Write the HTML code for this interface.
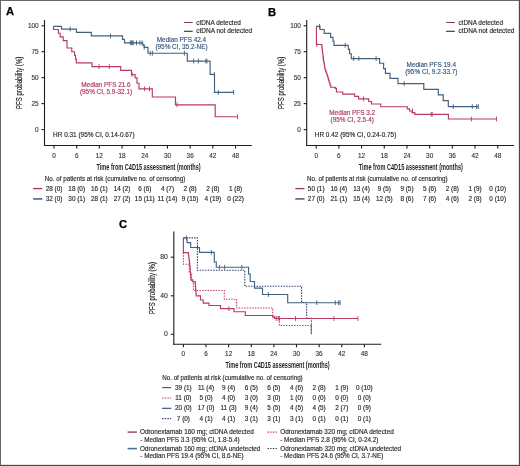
<!DOCTYPE html>
<html><head><meta charset="utf-8"><style>
html,body{margin:0;padding:0;background:#fff;}
body{width:520px;height:466px;overflow:hidden;font-family:"Liberation Sans",sans-serif;}
svg{display:block;will-change:transform;}
</style></head><body>
<svg width="520" height="466" viewBox="0 0 520 466" font-family="Liberation Sans">
<rect x="0" y="0" width="520" height="466" fill="#ffffff"/>
<text x="6.00" y="15.25" font-size="11.2" fill="#000" font-weight="bold" stroke="#000" stroke-width="0.25">A</text>
<text x="267.90" y="15.50" font-size="11.2" fill="#000" font-weight="bold" stroke="#000" stroke-width="0.25">B</text>
<text x="119.00" y="228.00" font-size="11.2" fill="#000" font-weight="bold" stroke="#000" stroke-width="0.25">C</text>
<line x1="44.50" y1="20.00" x2="44.50" y2="146.00" stroke="#1c1c1c" stroke-width="1.1"/>
<line x1="44.00" y1="145.50" x2="251.80" y2="145.50" stroke="#1c1c1c" stroke-width="1.1"/>
<line x1="41.50" y1="25.80" x2="44.50" y2="25.80" stroke="#1c1c1c" stroke-width="1.1"/>
<text x="38.60" y="28.10" font-size="6.4" fill="#3a3a3a" text-anchor="end" stroke="#3a3a3a" stroke-width="0.15">100</text>
<line x1="41.50" y1="51.70" x2="44.50" y2="51.70" stroke="#1c1c1c" stroke-width="1.1"/>
<text x="38.60" y="54.00" font-size="6.4" fill="#3a3a3a" text-anchor="end" stroke="#3a3a3a" stroke-width="0.15">75</text>
<line x1="41.50" y1="77.70" x2="44.50" y2="77.70" stroke="#1c1c1c" stroke-width="1.1"/>
<text x="38.60" y="80.00" font-size="6.4" fill="#3a3a3a" text-anchor="end" stroke="#3a3a3a" stroke-width="0.15">50</text>
<line x1="41.50" y1="103.60" x2="44.50" y2="103.60" stroke="#1c1c1c" stroke-width="1.1"/>
<text x="38.60" y="105.90" font-size="6.4" fill="#3a3a3a" text-anchor="end" stroke="#3a3a3a" stroke-width="0.15">25</text>
<line x1="41.50" y1="129.60" x2="44.50" y2="129.60" stroke="#1c1c1c" stroke-width="1.1"/>
<text x="38.60" y="131.90" font-size="6.4" fill="#3a3a3a" text-anchor="end" stroke="#3a3a3a" stroke-width="0.15">0</text>
<line x1="54.00" y1="145.50" x2="54.00" y2="148.50" stroke="#1c1c1c" stroke-width="1.1"/>
<text x="54.00" y="157.70" font-size="6.4" fill="#3a3a3a" text-anchor="middle" stroke="#3a3a3a" stroke-width="0.15">0</text>
<line x1="76.69" y1="145.50" x2="76.69" y2="148.50" stroke="#1c1c1c" stroke-width="1.1"/>
<text x="76.69" y="157.70" font-size="6.4" fill="#3a3a3a" text-anchor="middle" stroke="#3a3a3a" stroke-width="0.15">6</text>
<line x1="99.38" y1="145.50" x2="99.38" y2="148.50" stroke="#1c1c1c" stroke-width="1.1"/>
<text x="99.38" y="157.70" font-size="6.4" fill="#3a3a3a" text-anchor="middle" stroke="#3a3a3a" stroke-width="0.15">12</text>
<line x1="122.07" y1="145.50" x2="122.07" y2="148.50" stroke="#1c1c1c" stroke-width="1.1"/>
<text x="122.07" y="157.70" font-size="6.4" fill="#3a3a3a" text-anchor="middle" stroke="#3a3a3a" stroke-width="0.15">18</text>
<line x1="144.76" y1="145.50" x2="144.76" y2="148.50" stroke="#1c1c1c" stroke-width="1.1"/>
<text x="144.76" y="157.70" font-size="6.4" fill="#3a3a3a" text-anchor="middle" stroke="#3a3a3a" stroke-width="0.15">24</text>
<line x1="167.45" y1="145.50" x2="167.45" y2="148.50" stroke="#1c1c1c" stroke-width="1.1"/>
<text x="167.45" y="157.70" font-size="6.4" fill="#3a3a3a" text-anchor="middle" stroke="#3a3a3a" stroke-width="0.15">30</text>
<line x1="190.14" y1="145.50" x2="190.14" y2="148.50" stroke="#1c1c1c" stroke-width="1.1"/>
<text x="190.14" y="157.70" font-size="6.4" fill="#3a3a3a" text-anchor="middle" stroke="#3a3a3a" stroke-width="0.15">36</text>
<line x1="212.83" y1="145.50" x2="212.83" y2="148.50" stroke="#1c1c1c" stroke-width="1.1"/>
<text x="212.83" y="157.70" font-size="6.4" fill="#3a3a3a" text-anchor="middle" stroke="#3a3a3a" stroke-width="0.15">42</text>
<line x1="235.52" y1="145.50" x2="235.52" y2="148.50" stroke="#1c1c1c" stroke-width="1.1"/>
<text x="235.52" y="157.70" font-size="6.4" fill="#3a3a3a" text-anchor="middle" stroke="#3a3a3a" stroke-width="0.15">48</text>
<text transform="translate(22.20,109) rotate(-90)" font-size="9" fill="#111" stroke="#111" stroke-width="0.12" textLength="52.3" lengthAdjust="spacingAndGlyphs">PFS probability (%)</text>
<text x="96.50" y="169.60" font-size="9.3" fill="#1e1e1e" font-weight="bold" textLength="104.2" lengthAdjust="spacingAndGlyphs">Time from C4D15 assessment (months)</text>
<line x1="183.90" y1="22.50" x2="192.70" y2="22.50" stroke="#8e3552" stroke-width="1.05"/>
<line x1="183.90" y1="31.30" x2="192.70" y2="31.30" stroke="#22404e" stroke-width="1.15"/>
<text x="196.20" y="24.50" font-size="6.4" fill="#2a2a2a" textLength="44.6" lengthAdjust="spacingAndGlyphs" stroke="#2a2a2a" stroke-width="0.15">ctDNA detected</text>
<text x="196.20" y="33.10" font-size="6.4" fill="#2a2a2a" textLength="56.0" lengthAdjust="spacingAndGlyphs" stroke="#2a2a2a" stroke-width="0.15">ctDNA not detected</text>
<text x="44.80" y="180.80" font-size="6.4" fill="#2a2a2a" textLength="140.6" lengthAdjust="spacingAndGlyphs" stroke="#2a2a2a" stroke-width="0.15">No. of patients at risk (cumulative no. of censoring)</text>
<line x1="33.10" y1="188.60" x2="42.30" y2="188.60" stroke="#9a3a5a" stroke-width="1.3"/>
<line x1="33.10" y1="198.90" x2="42.30" y2="198.90" stroke="#5d7790" stroke-width="1.8"/>
<line x1="306.70" y1="20.00" x2="306.70" y2="146.00" stroke="#1c1c1c" stroke-width="1.1"/>
<line x1="306.20" y1="145.50" x2="514.00" y2="145.50" stroke="#1c1c1c" stroke-width="1.1"/>
<line x1="303.70" y1="25.80" x2="306.70" y2="25.80" stroke="#1c1c1c" stroke-width="1.1"/>
<text x="300.80" y="28.10" font-size="6.4" fill="#3a3a3a" text-anchor="end" stroke="#3a3a3a" stroke-width="0.15">100</text>
<line x1="303.70" y1="51.70" x2="306.70" y2="51.70" stroke="#1c1c1c" stroke-width="1.1"/>
<text x="300.80" y="54.00" font-size="6.4" fill="#3a3a3a" text-anchor="end" stroke="#3a3a3a" stroke-width="0.15">75</text>
<line x1="303.70" y1="77.70" x2="306.70" y2="77.70" stroke="#1c1c1c" stroke-width="1.1"/>
<text x="300.80" y="80.00" font-size="6.4" fill="#3a3a3a" text-anchor="end" stroke="#3a3a3a" stroke-width="0.15">50</text>
<line x1="303.70" y1="103.60" x2="306.70" y2="103.60" stroke="#1c1c1c" stroke-width="1.1"/>
<text x="300.80" y="105.90" font-size="6.4" fill="#3a3a3a" text-anchor="end" stroke="#3a3a3a" stroke-width="0.15">25</text>
<line x1="303.70" y1="129.60" x2="306.70" y2="129.60" stroke="#1c1c1c" stroke-width="1.1"/>
<text x="300.80" y="131.90" font-size="6.4" fill="#3a3a3a" text-anchor="end" stroke="#3a3a3a" stroke-width="0.15">0</text>
<line x1="316.20" y1="145.50" x2="316.20" y2="148.50" stroke="#1c1c1c" stroke-width="1.1"/>
<text x="316.20" y="157.70" font-size="6.4" fill="#3a3a3a" text-anchor="middle" stroke="#3a3a3a" stroke-width="0.15">0</text>
<line x1="338.89" y1="145.50" x2="338.89" y2="148.50" stroke="#1c1c1c" stroke-width="1.1"/>
<text x="338.89" y="157.70" font-size="6.4" fill="#3a3a3a" text-anchor="middle" stroke="#3a3a3a" stroke-width="0.15">6</text>
<line x1="361.58" y1="145.50" x2="361.58" y2="148.50" stroke="#1c1c1c" stroke-width="1.1"/>
<text x="361.58" y="157.70" font-size="6.4" fill="#3a3a3a" text-anchor="middle" stroke="#3a3a3a" stroke-width="0.15">12</text>
<line x1="384.27" y1="145.50" x2="384.27" y2="148.50" stroke="#1c1c1c" stroke-width="1.1"/>
<text x="384.27" y="157.70" font-size="6.4" fill="#3a3a3a" text-anchor="middle" stroke="#3a3a3a" stroke-width="0.15">18</text>
<line x1="406.96" y1="145.50" x2="406.96" y2="148.50" stroke="#1c1c1c" stroke-width="1.1"/>
<text x="406.96" y="157.70" font-size="6.4" fill="#3a3a3a" text-anchor="middle" stroke="#3a3a3a" stroke-width="0.15">24</text>
<line x1="429.65" y1="145.50" x2="429.65" y2="148.50" stroke="#1c1c1c" stroke-width="1.1"/>
<text x="429.65" y="157.70" font-size="6.4" fill="#3a3a3a" text-anchor="middle" stroke="#3a3a3a" stroke-width="0.15">30</text>
<line x1="452.34" y1="145.50" x2="452.34" y2="148.50" stroke="#1c1c1c" stroke-width="1.1"/>
<text x="452.34" y="157.70" font-size="6.4" fill="#3a3a3a" text-anchor="middle" stroke="#3a3a3a" stroke-width="0.15">36</text>
<line x1="475.03" y1="145.50" x2="475.03" y2="148.50" stroke="#1c1c1c" stroke-width="1.1"/>
<text x="475.03" y="157.70" font-size="6.4" fill="#3a3a3a" text-anchor="middle" stroke="#3a3a3a" stroke-width="0.15">42</text>
<line x1="497.72" y1="145.50" x2="497.72" y2="148.50" stroke="#1c1c1c" stroke-width="1.1"/>
<text x="497.72" y="157.70" font-size="6.4" fill="#3a3a3a" text-anchor="middle" stroke="#3a3a3a" stroke-width="0.15">48</text>
<text transform="translate(284.40,109) rotate(-90)" font-size="9" fill="#111" stroke="#111" stroke-width="0.12" textLength="52.3" lengthAdjust="spacingAndGlyphs">PFS probability (%)</text>
<text x="358.70" y="169.60" font-size="9.3" fill="#1e1e1e" font-weight="bold" textLength="104.2" lengthAdjust="spacingAndGlyphs">Time from C4D15 assessment (months)</text>
<line x1="446.10" y1="22.50" x2="454.90" y2="22.50" stroke="#8e3552" stroke-width="1.05"/>
<line x1="446.10" y1="31.30" x2="454.90" y2="31.30" stroke="#22404e" stroke-width="1.15"/>
<text x="458.40" y="24.50" font-size="6.4" fill="#2a2a2a" textLength="44.6" lengthAdjust="spacingAndGlyphs" stroke="#2a2a2a" stroke-width="0.15">ctDNA detected</text>
<text x="458.40" y="33.10" font-size="6.4" fill="#2a2a2a" textLength="56.0" lengthAdjust="spacingAndGlyphs" stroke="#2a2a2a" stroke-width="0.15">ctDNA not detected</text>
<text x="307.00" y="180.80" font-size="6.4" fill="#2a2a2a" textLength="140.6" lengthAdjust="spacingAndGlyphs" stroke="#2a2a2a" stroke-width="0.15">No. of patients at risk (cumulative no. of censoring)</text>
<line x1="295.30" y1="188.60" x2="304.50" y2="188.60" stroke="#9a3a5a" stroke-width="1.3"/>
<line x1="295.30" y1="198.90" x2="304.50" y2="198.90" stroke="#5d7790" stroke-width="1.8"/>
<text x="53.10" y="137.00" font-size="6.4" fill="#2a2a2a" textLength="81.5" lengthAdjust="spacingAndGlyphs" stroke="#2a2a2a" stroke-width="0.15">HR 0.31 (95% CI, 0.14-0.67)</text>
<text x="314.80" y="137.00" font-size="6.4" fill="#2a2a2a" textLength="81.5" lengthAdjust="spacingAndGlyphs" stroke="#2a2a2a" stroke-width="0.15">HR 0.42 (95% CI, 0.24-0.75)</text>
<text x="181.50" y="41.50" font-size="6.4" fill="#34577f" text-anchor="middle" stroke="#34577f" stroke-width="0.15">Median PFS 42.4</text>
<text x="181.50" y="48.60" font-size="6.4" fill="#34577f" text-anchor="middle" stroke="#34577f" stroke-width="0.15">(95% CI, 35.2-NE)</text>
<text x="106.00" y="86.70" font-size="6.4" fill="#b03558" text-anchor="middle" stroke="#b03558" stroke-width="0.15">Median PFS 21.6</text>
<text x="106.00" y="93.80" font-size="6.4" fill="#b03558" text-anchor="middle" stroke="#b03558" stroke-width="0.15">(95% CI, 5.9-32.1)</text>
<text x="431.30" y="66.80" font-size="6.4" fill="#34577f" text-anchor="middle" stroke="#34577f" stroke-width="0.15">Median PFS 19.4</text>
<text x="431.30" y="73.90" font-size="6.4" fill="#34577f" text-anchor="middle" stroke="#34577f" stroke-width="0.15">(95% CI, 9.2-33.7)</text>
<text x="352.20" y="114.70" font-size="6.4" fill="#b03558" text-anchor="middle" stroke="#b03558" stroke-width="0.15">Median PFS 3.2</text>
<text x="352.20" y="121.80" font-size="6.4" fill="#b03558" text-anchor="middle" stroke="#b03558" stroke-width="0.15">(95% CI, 2.5-4)</text>
<text x="54.00" y="191.10" font-size="6.4" fill="#2a2a2a" text-anchor="middle" stroke="#2a2a2a" stroke-width="0.15">28 (0)</text>
<text x="54.00" y="201.20" font-size="6.4" fill="#2a2a2a" text-anchor="middle" stroke="#2a2a2a" stroke-width="0.15">32 (0)</text>
<text x="316.20" y="191.10" font-size="6.4" fill="#2a2a2a" text-anchor="middle" stroke="#2a2a2a" stroke-width="0.15">50 (1)</text>
<text x="316.20" y="201.20" font-size="6.4" fill="#2a2a2a" text-anchor="middle" stroke="#2a2a2a" stroke-width="0.15">27 (0)</text>
<text x="76.69" y="191.10" font-size="6.4" fill="#2a2a2a" text-anchor="middle" stroke="#2a2a2a" stroke-width="0.15">18 (0)</text>
<text x="76.69" y="201.20" font-size="6.4" fill="#2a2a2a" text-anchor="middle" stroke="#2a2a2a" stroke-width="0.15">30 (1)</text>
<text x="338.89" y="191.10" font-size="6.4" fill="#2a2a2a" text-anchor="middle" stroke="#2a2a2a" stroke-width="0.15">16 (4)</text>
<text x="338.89" y="201.20" font-size="6.4" fill="#2a2a2a" text-anchor="middle" stroke="#2a2a2a" stroke-width="0.15">21 (1)</text>
<text x="99.38" y="191.10" font-size="6.4" fill="#2a2a2a" text-anchor="middle" stroke="#2a2a2a" stroke-width="0.15">16 (1)</text>
<text x="99.38" y="201.20" font-size="6.4" fill="#2a2a2a" text-anchor="middle" stroke="#2a2a2a" stroke-width="0.15">28 (1)</text>
<text x="361.58" y="191.10" font-size="6.4" fill="#2a2a2a" text-anchor="middle" stroke="#2a2a2a" stroke-width="0.15">13 (4)</text>
<text x="361.58" y="201.20" font-size="6.4" fill="#2a2a2a" text-anchor="middle" stroke="#2a2a2a" stroke-width="0.15">15 (4)</text>
<text x="122.07" y="191.10" font-size="6.4" fill="#2a2a2a" text-anchor="middle" stroke="#2a2a2a" stroke-width="0.15">14 (2)</text>
<text x="122.07" y="201.20" font-size="6.4" fill="#2a2a2a" text-anchor="middle" stroke="#2a2a2a" stroke-width="0.15">27 (2)</text>
<text x="384.27" y="191.10" font-size="6.4" fill="#2a2a2a" text-anchor="middle" stroke="#2a2a2a" stroke-width="0.15">9 (5)</text>
<text x="384.27" y="201.20" font-size="6.4" fill="#2a2a2a" text-anchor="middle" stroke="#2a2a2a" stroke-width="0.15">12 (5)</text>
<text x="144.76" y="191.10" font-size="6.4" fill="#2a2a2a" text-anchor="middle" stroke="#2a2a2a" stroke-width="0.15">6 (6)</text>
<text x="144.76" y="201.20" font-size="6.4" fill="#2a2a2a" text-anchor="middle" stroke="#2a2a2a" stroke-width="0.15">15 (11)</text>
<text x="406.96" y="191.10" font-size="6.4" fill="#2a2a2a" text-anchor="middle" stroke="#2a2a2a" stroke-width="0.15">9 (5)</text>
<text x="406.96" y="201.20" font-size="6.4" fill="#2a2a2a" text-anchor="middle" stroke="#2a2a2a" stroke-width="0.15">8 (6)</text>
<text x="167.45" y="191.10" font-size="6.4" fill="#2a2a2a" text-anchor="middle" stroke="#2a2a2a" stroke-width="0.15">4 (7)</text>
<text x="167.45" y="201.20" font-size="6.4" fill="#2a2a2a" text-anchor="middle" stroke="#2a2a2a" stroke-width="0.15">11 (14)</text>
<text x="429.65" y="191.10" font-size="6.4" fill="#2a2a2a" text-anchor="middle" stroke="#2a2a2a" stroke-width="0.15">5 (6)</text>
<text x="429.65" y="201.20" font-size="6.4" fill="#2a2a2a" text-anchor="middle" stroke="#2a2a2a" stroke-width="0.15">7 (6)</text>
<text x="190.14" y="191.10" font-size="6.4" fill="#2a2a2a" text-anchor="middle" stroke="#2a2a2a" stroke-width="0.15">2 (8)</text>
<text x="190.14" y="201.20" font-size="6.4" fill="#2a2a2a" text-anchor="middle" stroke="#2a2a2a" stroke-width="0.15">9 (15)</text>
<text x="452.34" y="191.10" font-size="6.4" fill="#2a2a2a" text-anchor="middle" stroke="#2a2a2a" stroke-width="0.15">2 (8)</text>
<text x="452.34" y="201.20" font-size="6.4" fill="#2a2a2a" text-anchor="middle" stroke="#2a2a2a" stroke-width="0.15">4 (6)</text>
<text x="212.83" y="191.10" font-size="6.4" fill="#2a2a2a" text-anchor="middle" stroke="#2a2a2a" stroke-width="0.15">2 (8)</text>
<text x="212.83" y="201.20" font-size="6.4" fill="#2a2a2a" text-anchor="middle" stroke="#2a2a2a" stroke-width="0.15">4 (19)</text>
<text x="475.03" y="191.10" font-size="6.4" fill="#2a2a2a" text-anchor="middle" stroke="#2a2a2a" stroke-width="0.15">1 (9)</text>
<text x="475.03" y="201.20" font-size="6.4" fill="#2a2a2a" text-anchor="middle" stroke="#2a2a2a" stroke-width="0.15">2 (8)</text>
<text x="235.52" y="191.10" font-size="6.4" fill="#2a2a2a" text-anchor="middle" stroke="#2a2a2a" stroke-width="0.15">1 (8)</text>
<text x="235.52" y="201.20" font-size="6.4" fill="#2a2a2a" text-anchor="middle" stroke="#2a2a2a" stroke-width="0.15">0 (22)</text>
<text x="497.72" y="191.10" font-size="6.4" fill="#2a2a2a" text-anchor="middle" stroke="#2a2a2a" stroke-width="0.15">0 (10)</text>
<text x="497.72" y="201.20" font-size="6.4" fill="#2a2a2a" text-anchor="middle" stroke="#2a2a2a" stroke-width="0.15">0 (10)</text>
<path d="M53.5,26.3 V29.5 H58.4 V33.2 H60.2 V36.9 H63.2 V40.6 H67 V44.3 V48.0 H71.8 V51.7 H74.5 V55.4 H75.5 V59.1 H76.3 V62.9 H92 V66.6 H120.7 V70.4 H131.5 V74.6 H135.1 V77.8 H137 V83.2 H139 V88.8 H152.3 V97 H175.5 V104.8 H215.2 V116.7 H237.7" fill="none" stroke="#b83a5c" stroke-width="1.15" stroke-linejoin="miter" stroke-linecap="butt"/>
<path d="M53.5,26.3 H61.5 V29.1 H76.5 V32.4 H91.3 V35.9 H122.5 V39.4 H124.5 V42.8 H142.8 V45.1 H144.2 V47.3 H148 V53.2 H187.3 V61.1 H210.1 V74.4 H214.5 V92.4 H233.6" fill="none" stroke="#43607c" stroke-width="1.15" stroke-linejoin="miter" stroke-linecap="butt"/>
<line x1="99.00" y1="64.20" x2="99.00" y2="69.00" stroke="#b83a5c" stroke-width="0.9"/>
<line x1="109.30" y1="64.20" x2="109.30" y2="69.00" stroke="#b83a5c" stroke-width="0.9"/>
<line x1="132.00" y1="72.20" x2="132.00" y2="77.00" stroke="#b83a5c" stroke-width="0.9"/>
<line x1="144.60" y1="86.40" x2="144.60" y2="91.20" stroke="#b83a5c" stroke-width="0.9"/>
<line x1="149.50" y1="86.40" x2="149.50" y2="91.20" stroke="#b83a5c" stroke-width="0.9"/>
<line x1="177.10" y1="102.40" x2="177.10" y2="107.20" stroke="#b83a5c" stroke-width="0.9"/>
<line x1="237.50" y1="114.30" x2="237.50" y2="119.10" stroke="#b83a5c" stroke-width="0.9"/>
<line x1="70.20" y1="26.70" x2="70.20" y2="31.50" stroke="#43607c" stroke-width="0.9"/>
<line x1="110.50" y1="33.50" x2="110.50" y2="38.30" stroke="#43607c" stroke-width="0.9"/>
<line x1="130.30" y1="40.40" x2="130.30" y2="45.20" stroke="#43607c" stroke-width="0.9"/>
<line x1="131.30" y1="40.40" x2="131.30" y2="45.20" stroke="#43607c" stroke-width="0.9"/>
<line x1="132.30" y1="40.40" x2="132.30" y2="45.20" stroke="#43607c" stroke-width="0.9"/>
<line x1="133.20" y1="40.40" x2="133.20" y2="45.20" stroke="#43607c" stroke-width="0.9"/>
<line x1="136.50" y1="40.40" x2="136.50" y2="45.20" stroke="#43607c" stroke-width="0.9"/>
<line x1="139.90" y1="40.40" x2="139.90" y2="45.20" stroke="#43607c" stroke-width="0.9"/>
<line x1="142.10" y1="40.40" x2="142.10" y2="45.20" stroke="#43607c" stroke-width="0.9"/>
<line x1="144.20" y1="44.90" x2="144.20" y2="49.70" stroke="#43607c" stroke-width="0.9"/>
<line x1="150.20" y1="50.80" x2="150.20" y2="55.60" stroke="#43607c" stroke-width="0.9"/>
<line x1="152.40" y1="50.80" x2="152.40" y2="55.60" stroke="#43607c" stroke-width="0.9"/>
<line x1="184.40" y1="50.80" x2="184.40" y2="55.60" stroke="#43607c" stroke-width="0.9"/>
<line x1="193.60" y1="58.70" x2="193.60" y2="63.50" stroke="#43607c" stroke-width="0.9"/>
<line x1="198.30" y1="58.70" x2="198.30" y2="63.50" stroke="#43607c" stroke-width="0.9"/>
<line x1="205.80" y1="58.70" x2="205.80" y2="63.50" stroke="#43607c" stroke-width="0.9"/>
<line x1="206.90" y1="58.70" x2="206.90" y2="63.50" stroke="#43607c" stroke-width="0.9"/>
<line x1="214.40" y1="72.00" x2="214.40" y2="76.80" stroke="#43607c" stroke-width="0.9"/>
<line x1="218.40" y1="90.00" x2="218.40" y2="94.80" stroke="#43607c" stroke-width="0.9"/>
<line x1="233.60" y1="90.00" x2="233.60" y2="94.80" stroke="#43607c" stroke-width="0.9"/>
<path d="M316.4,26.3 V44.5 H321.7 H321.82 V46.56 H322.06 V48.61 H322.31 V50.67 H322.55 V52.73 H322.79 V54.79 H323.04 V56.84 H323.28 V58.90 H323.58 V61.02 H323.94 V63.14 H324.30 V65.26 H324.66 V67.38 H325.02 V69.50 H325.65 V71.85 H326.55 V74.20 H327.30 V76.17 H327.90 V78.13 H328.50 V80.10 H329.18 V82.47 H329.95 V84.83 H330.72 V87.20 H335.3 V88.4 H336.4 V92 H342.7 V94.1 H354.7 V96.3 H358.6 V98.8 H368.7 V101.5 H371.5 V104 H380.8 V106.7 H407.3 V108.8 H409.5 V111 H412 V112.6 H414.8 V114.3 H448.4 V119 H496.5" fill="none" stroke="#b83a5c" stroke-width="1.15" stroke-linejoin="miter" stroke-linecap="butt"/>
<path d="M316.2,26.3 H320 V29.5 H324.2 V33.4 H330.6 V37.3 H333 V41.2 H334 V45.3 H348.3 V49.4 H349.6 V53.7 H351.3 V58.6 H379.6 V63.2 H383.6 V68.6 H385.4 V73.3 H390 V78.4 H398 V83.6 H423.8 V89.4 H438.3 V94.8 H443.2 V100.6 H448.3 V106.6 H478.3" fill="none" stroke="#43607c" stroke-width="1.15" stroke-linejoin="miter" stroke-linecap="butt"/>
<line x1="316.80" y1="42.10" x2="316.80" y2="46.90" stroke="#b83a5c" stroke-width="0.9"/>
<line x1="323.40" y1="56.50" x2="323.40" y2="61.30" stroke="#b83a5c" stroke-width="0.9"/>
<line x1="363.50" y1="96.40" x2="363.50" y2="101.20" stroke="#b83a5c" stroke-width="0.9"/>
<line x1="412.50" y1="108.60" x2="412.50" y2="113.40" stroke="#b83a5c" stroke-width="0.9"/>
<line x1="431.20" y1="111.90" x2="431.20" y2="116.70" stroke="#b83a5c" stroke-width="0.9"/>
<line x1="432.20" y1="111.90" x2="432.20" y2="116.70" stroke="#b83a5c" stroke-width="0.9"/>
<line x1="471.40" y1="116.60" x2="471.40" y2="121.40" stroke="#b83a5c" stroke-width="0.9"/>
<line x1="496.50" y1="116.60" x2="496.50" y2="121.40" stroke="#b83a5c" stroke-width="0.9"/>
<line x1="319.50" y1="23.90" x2="319.50" y2="28.70" stroke="#43607c" stroke-width="0.9"/>
<line x1="345.20" y1="42.90" x2="345.20" y2="47.70" stroke="#43607c" stroke-width="0.9"/>
<line x1="353.70" y1="56.20" x2="353.70" y2="61.00" stroke="#43607c" stroke-width="0.9"/>
<line x1="358.80" y1="56.20" x2="358.80" y2="61.00" stroke="#43607c" stroke-width="0.9"/>
<line x1="376.10" y1="56.20" x2="376.10" y2="61.00" stroke="#43607c" stroke-width="0.9"/>
<line x1="404.20" y1="81.20" x2="404.20" y2="86.00" stroke="#43607c" stroke-width="0.9"/>
<line x1="453.30" y1="104.20" x2="453.30" y2="109.00" stroke="#43607c" stroke-width="0.9"/>
<line x1="472.30" y1="104.20" x2="472.30" y2="109.00" stroke="#43607c" stroke-width="0.9"/>
<line x1="476.60" y1="104.20" x2="476.60" y2="109.00" stroke="#43607c" stroke-width="0.9"/>
<line x1="478.30" y1="104.20" x2="478.30" y2="109.00" stroke="#43607c" stroke-width="0.9"/>
<line x1="173.80" y1="231.40" x2="173.80" y2="344.80" stroke="#1c1c1c" stroke-width="1.1"/>
<line x1="173.30" y1="344.30" x2="381.30" y2="344.30" stroke="#1c1c1c" stroke-width="1.1"/>
<line x1="170.80" y1="257.20" x2="173.80" y2="257.20" stroke="#1c1c1c" stroke-width="1.1"/>
<text x="167.80" y="258.90" font-size="6.8" fill="#3a3a3a" text-anchor="end" stroke="#3a3a3a" stroke-width="0.15">80</text>
<line x1="170.80" y1="295.80" x2="173.80" y2="295.80" stroke="#1c1c1c" stroke-width="1.1"/>
<text x="167.80" y="297.50" font-size="6.8" fill="#3a3a3a" text-anchor="end" stroke="#3a3a3a" stroke-width="0.15">40</text>
<line x1="170.80" y1="334.30" x2="173.80" y2="334.30" stroke="#1c1c1c" stroke-width="1.1"/>
<text x="167.80" y="336.00" font-size="6.8" fill="#3a3a3a" text-anchor="end" stroke="#3a3a3a" stroke-width="0.15">0</text>
<line x1="183.40" y1="344.30" x2="183.40" y2="347.30" stroke="#1c1c1c" stroke-width="1.1"/>
<text x="183.40" y="356.10" font-size="6.4" fill="#3a3a3a" text-anchor="middle" stroke="#3a3a3a" stroke-width="0.15">0</text>
<line x1="206.02" y1="344.30" x2="206.02" y2="347.30" stroke="#1c1c1c" stroke-width="1.1"/>
<text x="206.02" y="356.10" font-size="6.4" fill="#3a3a3a" text-anchor="middle" stroke="#3a3a3a" stroke-width="0.15">6</text>
<line x1="228.64" y1="344.30" x2="228.64" y2="347.30" stroke="#1c1c1c" stroke-width="1.1"/>
<text x="228.64" y="356.10" font-size="6.4" fill="#3a3a3a" text-anchor="middle" stroke="#3a3a3a" stroke-width="0.15">12</text>
<line x1="251.26" y1="344.30" x2="251.26" y2="347.30" stroke="#1c1c1c" stroke-width="1.1"/>
<text x="251.26" y="356.10" font-size="6.4" fill="#3a3a3a" text-anchor="middle" stroke="#3a3a3a" stroke-width="0.15">18</text>
<line x1="273.88" y1="344.30" x2="273.88" y2="347.30" stroke="#1c1c1c" stroke-width="1.1"/>
<text x="273.88" y="356.10" font-size="6.4" fill="#3a3a3a" text-anchor="middle" stroke="#3a3a3a" stroke-width="0.15">24</text>
<line x1="296.50" y1="344.30" x2="296.50" y2="347.30" stroke="#1c1c1c" stroke-width="1.1"/>
<text x="296.50" y="356.10" font-size="6.4" fill="#3a3a3a" text-anchor="middle" stroke="#3a3a3a" stroke-width="0.15">30</text>
<line x1="319.12" y1="344.30" x2="319.12" y2="347.30" stroke="#1c1c1c" stroke-width="1.1"/>
<text x="319.12" y="356.10" font-size="6.4" fill="#3a3a3a" text-anchor="middle" stroke="#3a3a3a" stroke-width="0.15">36</text>
<line x1="341.74" y1="344.30" x2="341.74" y2="347.30" stroke="#1c1c1c" stroke-width="1.1"/>
<text x="341.74" y="356.10" font-size="6.4" fill="#3a3a3a" text-anchor="middle" stroke="#3a3a3a" stroke-width="0.15">42</text>
<line x1="364.36" y1="344.30" x2="364.36" y2="347.30" stroke="#1c1c1c" stroke-width="1.1"/>
<text x="364.36" y="356.10" font-size="6.4" fill="#3a3a3a" text-anchor="middle" stroke="#3a3a3a" stroke-width="0.15">48</text>
<text transform="translate(154.7,314) rotate(-90)" font-size="9" fill="#111" stroke="#111" stroke-width="0.12" textLength="52" lengthAdjust="spacingAndGlyphs">PFS probability (%)</text>
<text x="225.40" y="368.30" font-size="9.3" fill="#1e1e1e" font-weight="bold" textLength="104.2" lengthAdjust="spacingAndGlyphs">Time from C4D15 assessment (months)</text>
<path d="M183.4,252.6 V264.2 H189.3 V273 H191.6 V281.7 H193.4 V290.5 H224.3 V299.2 H236.6 V308 H272.7 V316.8 H279.4 V325.5 H311.3 V334.3" fill="none" stroke="#c73b62" stroke-width="1.1" stroke-linejoin="miter" stroke-linecap="butt" stroke-dasharray="1.45 1.25"/>
<path d="M183.4,237.9 H197.4 V270.2 H244.8 V286.3 H301.6 V302.5 H306.6 V318.4 H311.3 V334.3" fill="none" stroke="#243f68" stroke-width="1.1" stroke-linejoin="miter" stroke-linecap="butt" stroke-dasharray="1.45 1.25"/>
<path d="M183.4,237.9 V252.6 H188.3 H188.46 V255.22 H188.78 V257.84 H189.10 V260.46 H189.42 V263.08 H189.74 V265.70 H189.99 V268.07 H190.18 V270.43 H190.36 V272.80 H190.54 V275.17 H190.72 V277.53 H190.91 V279.90 H192.8 V281.6 H195.2 V283.6 H195.31 V286.04 H195.53 V288.48 H195.75 V290.92 H195.97 V293.36 H196.19 V295.80 H200.5 V300 H203.2 V303.1 H209 V305.5 H220.5 V308.6 H234 V311.7 H245.3 V315.5 H272.7 V316.8 H274.5 V318.5 H357.9" fill="none" stroke="#b83a5c" stroke-width="1.15" stroke-linejoin="miter" stroke-linecap="butt"/>
<path d="M183.4,237.9 H187 V242.6 H190.7 V247.5 H199.5 V252.3 H214.3 V262 H216.3 V267.2 H248.6 V274 H250.2 V281.5 H254.5 V288.1 H262.5 V294.5 H287.7 V302.7 H340.4" fill="none" stroke="#43607c" stroke-width="1.15" stroke-linejoin="miter" stroke-linecap="butt"/>
<line x1="228.90" y1="306.20" x2="228.90" y2="311.00" stroke="#b83a5c" stroke-width="0.9"/>
<line x1="276.20" y1="316.10" x2="276.20" y2="320.90" stroke="#b83a5c" stroke-width="0.9"/>
<line x1="278.30" y1="316.10" x2="278.30" y2="320.90" stroke="#b83a5c" stroke-width="0.9"/>
<line x1="279.20" y1="316.10" x2="279.20" y2="320.90" stroke="#b83a5c" stroke-width="0.9"/>
<line x1="295.50" y1="316.10" x2="295.50" y2="320.90" stroke="#b83a5c" stroke-width="0.9"/>
<line x1="333.90" y1="316.10" x2="333.90" y2="320.90" stroke="#b83a5c" stroke-width="0.9"/>
<line x1="357.90" y1="316.10" x2="357.90" y2="320.90" stroke="#b83a5c" stroke-width="0.9"/>
<line x1="186.40" y1="235.50" x2="186.40" y2="240.30" stroke="#43607c" stroke-width="0.9"/>
<line x1="197.60" y1="245.10" x2="197.60" y2="249.90" stroke="#43607c" stroke-width="0.9"/>
<line x1="211.30" y1="249.90" x2="211.30" y2="254.70" stroke="#43607c" stroke-width="0.9"/>
<line x1="219.40" y1="264.80" x2="219.40" y2="269.60" stroke="#43607c" stroke-width="0.9"/>
<line x1="224.60" y1="264.80" x2="224.60" y2="269.60" stroke="#43607c" stroke-width="0.9"/>
<line x1="241.80" y1="264.80" x2="241.80" y2="269.60" stroke="#43607c" stroke-width="0.9"/>
<line x1="268.40" y1="292.10" x2="268.40" y2="296.90" stroke="#43607c" stroke-width="0.9"/>
<line x1="316.80" y1="300.30" x2="316.80" y2="305.10" stroke="#43607c" stroke-width="0.9"/>
<line x1="335.30" y1="300.30" x2="335.30" y2="305.10" stroke="#43607c" stroke-width="0.9"/>
<line x1="338.60" y1="300.30" x2="338.60" y2="305.10" stroke="#43607c" stroke-width="0.9"/>
<line x1="340.10" y1="300.30" x2="340.10" y2="305.10" stroke="#43607c" stroke-width="0.9"/>
<text x="162.20" y="379.60" font-size="6.4" fill="#2a2a2a" textLength="140.5" lengthAdjust="spacingAndGlyphs" stroke="#2a2a2a" stroke-width="0.15">No. of patients at risk (cumulative no. of censoring)</text>
<line x1="162.00" y1="387.60" x2="171.20" y2="387.60" stroke="#8a3350" stroke-width="1.1"/>
<text x="183.40" y="389.60" font-size="6.4" fill="#2a2a2a" text-anchor="middle" stroke="#2a2a2a" stroke-width="0.15">39 (1)</text>
<text x="206.02" y="389.60" font-size="6.4" fill="#2a2a2a" text-anchor="middle" stroke="#2a2a2a" stroke-width="0.15">11 (4)</text>
<text x="228.64" y="389.60" font-size="6.4" fill="#2a2a2a" text-anchor="middle" stroke="#2a2a2a" stroke-width="0.15">9 (4)</text>
<text x="251.26" y="389.60" font-size="6.4" fill="#2a2a2a" text-anchor="middle" stroke="#2a2a2a" stroke-width="0.15">6 (5)</text>
<text x="273.88" y="389.60" font-size="6.4" fill="#2a2a2a" text-anchor="middle" stroke="#2a2a2a" stroke-width="0.15">6 (5)</text>
<text x="296.50" y="389.60" font-size="6.4" fill="#2a2a2a" text-anchor="middle" stroke="#2a2a2a" stroke-width="0.15">4 (6)</text>
<text x="319.12" y="389.60" font-size="6.4" fill="#2a2a2a" text-anchor="middle" stroke="#2a2a2a" stroke-width="0.15">2 (8)</text>
<text x="341.74" y="389.60" font-size="6.4" fill="#2a2a2a" text-anchor="middle" stroke="#2a2a2a" stroke-width="0.15">1 (9)</text>
<text x="364.36" y="389.60" font-size="6.4" fill="#2a2a2a" text-anchor="middle" stroke="#2a2a2a" stroke-width="0.15">0 (10)</text>
<line x1="162.00" y1="397.95" x2="171.20" y2="397.95" stroke="#c73b62" stroke-width="1.1" stroke-dasharray="1.45 1.25"/>
<text x="183.40" y="399.95" font-size="6.4" fill="#2a2a2a" text-anchor="middle" stroke="#2a2a2a" stroke-width="0.15">11 (0)</text>
<text x="206.02" y="399.95" font-size="6.4" fill="#2a2a2a" text-anchor="middle" stroke="#2a2a2a" stroke-width="0.15">5 (0)</text>
<text x="228.64" y="399.95" font-size="6.4" fill="#2a2a2a" text-anchor="middle" stroke="#2a2a2a" stroke-width="0.15">4 (0)</text>
<text x="251.26" y="399.95" font-size="6.4" fill="#2a2a2a" text-anchor="middle" stroke="#2a2a2a" stroke-width="0.15">3 (0)</text>
<text x="273.88" y="399.95" font-size="6.4" fill="#2a2a2a" text-anchor="middle" stroke="#2a2a2a" stroke-width="0.15">3 (0)</text>
<text x="296.50" y="399.95" font-size="6.4" fill="#2a2a2a" text-anchor="middle" stroke="#2a2a2a" stroke-width="0.15">1 (0)</text>
<text x="319.12" y="399.95" font-size="6.4" fill="#2a2a2a" text-anchor="middle" stroke="#2a2a2a" stroke-width="0.15">0 (0)</text>
<text x="341.74" y="399.95" font-size="6.4" fill="#2a2a2a" text-anchor="middle" stroke="#2a2a2a" stroke-width="0.15">0 (0)</text>
<text x="364.36" y="399.95" font-size="6.4" fill="#2a2a2a" text-anchor="middle" stroke="#2a2a2a" stroke-width="0.15">0 (0)</text>
<line x1="162.00" y1="408.30" x2="171.20" y2="408.30" stroke="#2e4a6c" stroke-width="1.1"/>
<text x="183.40" y="410.30" font-size="6.4" fill="#2a2a2a" text-anchor="middle" stroke="#2a2a2a" stroke-width="0.15">20 (0)</text>
<text x="206.02" y="410.30" font-size="6.4" fill="#2a2a2a" text-anchor="middle" stroke="#2a2a2a" stroke-width="0.15">17 (0)</text>
<text x="228.64" y="410.30" font-size="6.4" fill="#2a2a2a" text-anchor="middle" stroke="#2a2a2a" stroke-width="0.15">11 (3)</text>
<text x="251.26" y="410.30" font-size="6.4" fill="#2a2a2a" text-anchor="middle" stroke="#2a2a2a" stroke-width="0.15">9 (4)</text>
<text x="273.88" y="410.30" font-size="6.4" fill="#2a2a2a" text-anchor="middle" stroke="#2a2a2a" stroke-width="0.15">5 (5)</text>
<text x="296.50" y="410.30" font-size="6.4" fill="#2a2a2a" text-anchor="middle" stroke="#2a2a2a" stroke-width="0.15">4 (5)</text>
<text x="319.12" y="410.30" font-size="6.4" fill="#2a2a2a" text-anchor="middle" stroke="#2a2a2a" stroke-width="0.15">4 (5)</text>
<text x="341.74" y="410.30" font-size="6.4" fill="#2a2a2a" text-anchor="middle" stroke="#2a2a2a" stroke-width="0.15">2 (7)</text>
<text x="364.36" y="410.30" font-size="6.4" fill="#2a2a2a" text-anchor="middle" stroke="#2a2a2a" stroke-width="0.15">0 (9)</text>
<line x1="162.00" y1="418.65" x2="171.20" y2="418.65" stroke="#243f68" stroke-width="1.1" stroke-dasharray="1.45 1.25"/>
<text x="183.40" y="420.65" font-size="6.4" fill="#2a2a2a" text-anchor="middle" stroke="#2a2a2a" stroke-width="0.15">7 (0)</text>
<text x="206.02" y="420.65" font-size="6.4" fill="#2a2a2a" text-anchor="middle" stroke="#2a2a2a" stroke-width="0.15">4 (1)</text>
<text x="228.64" y="420.65" font-size="6.4" fill="#2a2a2a" text-anchor="middle" stroke="#2a2a2a" stroke-width="0.15">4 (1)</text>
<text x="251.26" y="420.65" font-size="6.4" fill="#2a2a2a" text-anchor="middle" stroke="#2a2a2a" stroke-width="0.15">3 (1)</text>
<text x="273.88" y="420.65" font-size="6.4" fill="#2a2a2a" text-anchor="middle" stroke="#2a2a2a" stroke-width="0.15">3 (1)</text>
<text x="296.50" y="420.65" font-size="6.4" fill="#2a2a2a" text-anchor="middle" stroke="#2a2a2a" stroke-width="0.15">3 (1)</text>
<text x="319.12" y="420.65" font-size="6.4" fill="#2a2a2a" text-anchor="middle" stroke="#2a2a2a" stroke-width="0.15">0 (1)</text>
<text x="341.74" y="420.65" font-size="6.4" fill="#2a2a2a" text-anchor="middle" stroke="#2a2a2a" stroke-width="0.15">0 (1)</text>
<text x="364.36" y="420.65" font-size="6.4" fill="#2a2a2a" text-anchor="middle" stroke="#2a2a2a" stroke-width="0.15">0 (1)</text>
<line x1="127.60" y1="432.10" x2="136.90" y2="432.10" stroke="#ad5275" stroke-width="1.6"/>
<text x="139.90" y="434.10" font-size="6.4" fill="#2a2a2a" textLength="113.9" lengthAdjust="spacingAndGlyphs" stroke="#2a2a2a" stroke-width="0.15">Odronextamab 160 mg; ctDNA detected</text>
<text x="140.30" y="441.80" font-size="6.4" fill="#2a2a2a" textLength="99.4" lengthAdjust="spacingAndGlyphs" stroke="#2a2a2a" stroke-width="0.15">- Median PFS 3.3 (95% CI, 1.8-5.4)</text>
<line x1="127.60" y1="448.60" x2="136.90" y2="448.60" stroke="#4a7098" stroke-width="1.6"/>
<text x="139.90" y="450.70" font-size="6.4" fill="#2a2a2a" textLength="120.4" lengthAdjust="spacingAndGlyphs" stroke="#2a2a2a" stroke-width="0.15">Odronextamab 160 mg; ctDNA undetected</text>
<text x="140.30" y="458.40" font-size="6.4" fill="#2a2a2a" textLength="103.4" lengthAdjust="spacingAndGlyphs" stroke="#2a2a2a" stroke-width="0.15">- Median PFS 19.4 (95% CI, 8.6-NE)</text>
<line x1="267.40" y1="432.10" x2="276.80" y2="432.10" stroke="#c73b62" stroke-width="1.1" stroke-dasharray="1.45 1.25"/>
<text x="280.20" y="434.10" font-size="6.4" fill="#2a2a2a" textLength="113.6" lengthAdjust="spacingAndGlyphs" stroke="#2a2a2a" stroke-width="0.15">Odronextamab 320 mg; ctDNA detected</text>
<text x="280.20" y="441.80" font-size="6.4" fill="#2a2a2a" textLength="98.3" lengthAdjust="spacingAndGlyphs" stroke="#2a2a2a" stroke-width="0.15">- Median PFS 2.8 (95% CI, 0-24.2)</text>
<line x1="267.40" y1="448.50" x2="276.80" y2="448.50" stroke="#243f68" stroke-width="1.1" stroke-dasharray="1.45 1.25"/>
<text x="280.20" y="450.70" font-size="6.4" fill="#2a2a2a" textLength="121.0" lengthAdjust="spacingAndGlyphs" stroke="#2a2a2a" stroke-width="0.15">Odronextamab 320 mg; ctDNA undetected</text>
<text x="280.20" y="458.40" font-size="6.4" fill="#2a2a2a" textLength="103.1" lengthAdjust="spacingAndGlyphs" stroke="#2a2a2a" stroke-width="0.15">- Median PFS 24.6 (95% CI, 3.7-NE)</text>
<rect x="0" y="0" width="520" height="1" fill="#666"/>
<rect x="0" y="0" width="1" height="466" fill="#666"/>
<rect x="519" y="0" width="1" height="466" fill="#4a4a4a"/>
<rect x="0" y="465" width="520" height="1" fill="#4a4a4a"/>
<rect x="518" y="1" width="1" height="464" fill="#e2e2e2"/>
<rect x="1" y="464" width="518" height="1" fill="#e2e2e2"/>
</svg>
</body></html>
